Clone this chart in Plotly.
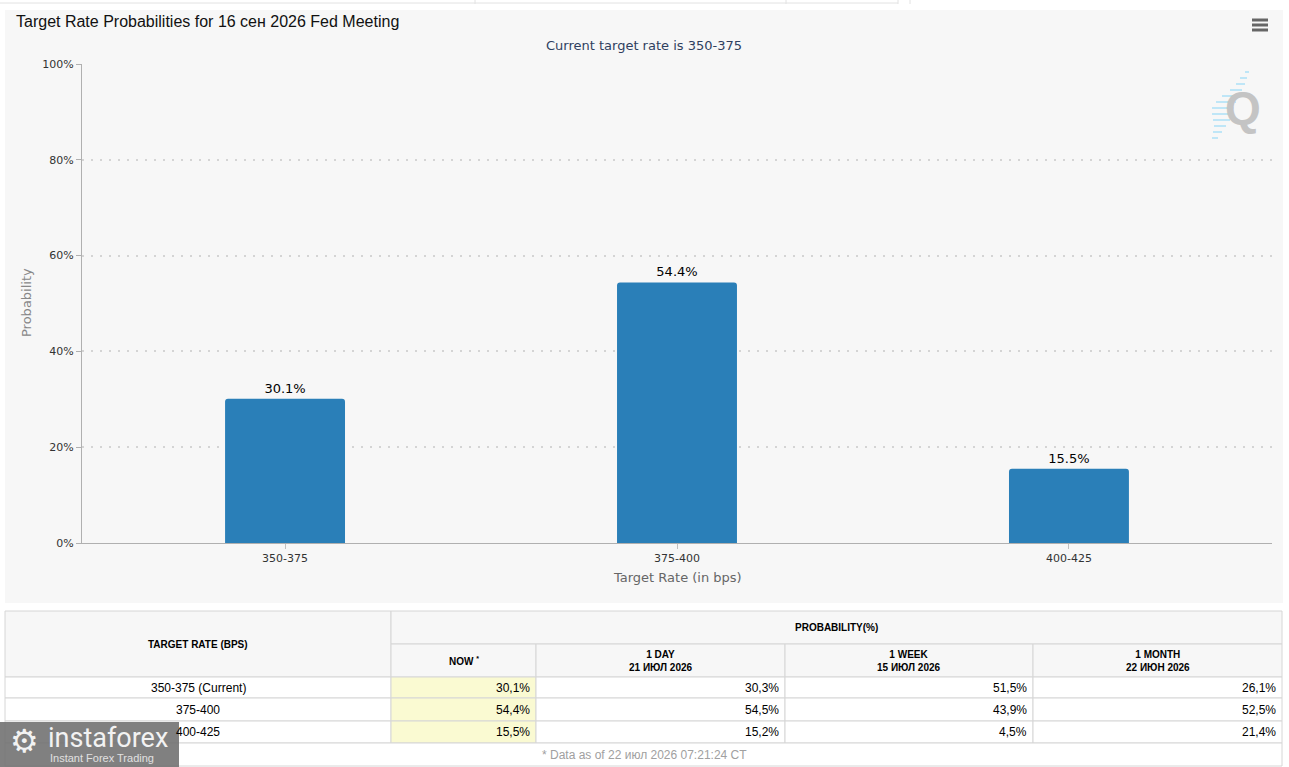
import plotly.graph_objects as go

# ----- data
rates = ["350-375", "375-400", "400-425"]
probs_now = [30.1, 54.4, 15.5]
probs_1day = [30.3, 54.5, 15.2]
probs_1week = [51.5, 43.9, 4.5]
probs_1month = [26.1, 52.5, 21.4]
row_labels = ["350-375 (Current)", "375-400", "400-425"]
col_headers = ["NOW <sup>*</sup>", "1 DAY<br>21 ИЮЛ 2026", "1 WEEK<br>15 ИЮЛ 2026", "1 MONTH<br>22 ИЮН 2026"]
y_ticks = [0, 20, 40, 60, 80, 100]
y_ticktext = [f"{v}%" for v in y_ticks]

TITLE = "Target Rate Probabilities for 16 сен 2026 Fed Meeting"
SUBTITLE = "Current target rate is 350-375"
FOOTNOTE = "* Data as of 22 июл 2026 07:21:24 CT"

# ----- page geometry (pixels)
W, H = 1289, 767
PL, PR, PT, PB = 82, 1272, 64, 543


def px(x):
    return (x - PL) / (PR - PL)


def py(y):
    return (PB - y) / (PB - PT)


CHART_FONT = "DejaVu Sans, Verdana, sans-serif"
TABLE_FONT = "Liberation Sans, Arial, sans-serif"

fig = go.Figure()
fig.add_trace(go.Bar(
    x=rates, y=probs_now,
    marker=dict(color="#2a7fb8", line=dict(width=0), cornerradius=3),
    width=0.306,
    texttemplate="%{y:.1f}%", textposition="outside",
    textfont=dict(family=CHART_FONT, size=13, color="#000"),
    cliponaxis=False, hoverinfo="x+y",
))

shapes = []
annotations = []

# chart panel background
shapes.append(dict(type="rect", xref="paper", yref="paper", layer="below",
                   x0=px(5), x1=px(1283), y0=py(603), y1=py(10),
                   fillcolor="#f7f7f7", line=dict(width=0)))
# faint line at very top of page
shapes.append(dict(type="line", xref="paper", yref="paper", layer="below",
                   x0=px(0), x1=px(898), y0=py(3), y1=py(3),
                   line=dict(color="#e2e2e2", width=1)))
for xx in (475, 786, 898, 910):
    shapes.append(dict(type="line", xref="paper", yref="paper", layer="below",
                       x0=px(xx), x1=px(xx), y0=py(0), y1=py(4),
                       line=dict(color="#e2e2e2", width=1)))

# hamburger menu icon
for yy in (20, 25, 30):
    shapes.append(dict(type="line", xref="paper", yref="paper",
                       x0=px(1252), x1=px(1268), y0=py(yy), y1=py(yy),
                       line=dict(color="#666", width=3)))

annotations.append(dict(text=TITLE, x=px(14), y=py(21), xref="paper", yref="paper",
                        xanchor="left", yanchor="middle", showarrow=False,
                        font=dict(family=TABLE_FONT, size=16, color="#111")))
annotations.append(dict(text=SUBTITLE, x=px(644), y=py(45), xref="paper", yref="paper",
                        xanchor="center", yanchor="middle", showarrow=False,
                        font=dict(family=CHART_FONT, size=13, color="#2f3f5f")))
annotations.append(dict(text="Probability", x=px(26), y=py(303), xref="paper", yref="paper",
                        textangle=-90, xanchor="center", yanchor="middle", showarrow=False,
                        font=dict(family=CHART_FONT, size=13, color="#888")))
annotations.append(dict(text="Target Rate (in bps)", x=px(677), y=py(577), xref="paper", yref="paper",
                        xanchor="center", yanchor="middle", showarrow=False,
                        font=dict(family=CHART_FONT, size=13, color="#666")))
# Q logo with light blue diagonal streaks
streaks = [(72, 1245, 1249), (78, 1240, 1247), (84, 1236, 1245), (90, 1230, 1242),
           (96, 1222, 1240), (102, 1216, 1236), (108, 1212, 1234), (114, 1212, 1232),
           (120, 1213, 1230), (126, 1214, 1226), (132, 1213, 1222), (138, 1212, 1218)]
for y_s, x_a, x_b in streaks:
    shapes.append(dict(type="line", xref="paper", yref="paper",
                       x0=px(x_a), x1=px(x_b), y0=py(y_s), y1=py(y_s),
                       line=dict(color="#bfe6f7", width=2)))
annotations.append(dict(text="<b>Q</b>", x=px(1243), y=py(108), xref="paper", yref="paper",
                        xanchor="center", yanchor="middle", showarrow=False,
                        font=dict(family="Liberation Sans, Arial", size=46, color="#c4c4c4")))

# ----- table
col_edges = [5, 391, 536, 785, 1033, 1282]
row_edges = [611, 644, 677, 698, 721, 743, 766]
border = dict(color="#d6d6d6", width=1)


def cell(x0, x1, y0, y1, fill):
    shapes.append(dict(type="rect", xref="paper", yref="paper",
                       x0=px(x0), x1=px(x1), y0=py(y1), y1=py(y0),
                       fillcolor=fill, line=border))


def label(text, x, y, anchor="center", size=12, color="#000", bold=False):
    annotations.append(dict(text=f"<b>{text}</b>" if bold else text,
                            x=px(x), y=py(y), xref="paper", yref="paper",
                            xanchor=anchor, yanchor="middle", showarrow=False,
                            align="center",
                            font=dict(family=TABLE_FONT, size=size, color=color)))


header_fill = "#f7f7f7"
cell(col_edges[0], col_edges[1], row_edges[0], row_edges[2], header_fill)
label("TARGET RATE (BPS)", (col_edges[0] + col_edges[1]) / 2, (row_edges[0] + row_edges[2]) / 2, size=10, bold=True)
cell(col_edges[1], col_edges[5], row_edges[0], row_edges[1], header_fill)
label("PROBABILITY(%)", (col_edges[1] + col_edges[5]) / 2, (row_edges[0] + row_edges[1]) / 2, size=10, bold=True)
for j, head in enumerate(col_headers):
    cell(col_edges[j + 1], col_edges[j + 2], row_edges[1], row_edges[2], header_fill)
    label(head, (col_edges[j + 1] + col_edges[j + 2]) / 2, (row_edges[1] + row_edges[2]) / 2, size=10, bold=True)

columns = [probs_now, probs_1day, probs_1week, probs_1month]
for i, name in enumerate(row_labels):
    y0, y1 = row_edges[i + 2], row_edges[i + 3]
    cell(col_edges[0], col_edges[1], y0, y1, "#ffffff")
    label(name, (col_edges[0] + col_edges[1]) / 2, (y0 + y1) / 2)
    for j, col in enumerate(columns):
        cell(col_edges[j + 1], col_edges[j + 2], y0, y1, "#fafad2" if j == 0 else "#ffffff")
        label(f"{col[i]:.1f}".replace(".", ",") + "%", col_edges[j + 2] - 4, (y0 + y1) / 2, anchor="right")

cell(col_edges[0], col_edges[5], row_edges[5], row_edges[6], "#ffffff")
label(FOOTNOTE, 644, (row_edges[5] + row_edges[6]) / 2, color="#a0a0a0")

# instaforex watermark
shapes.append(dict(type="rect", xref="paper", yref="paper",
                   x0=px(0), x1=px(179), y0=py(767), y1=py(722),
                   fillcolor="rgba(110,110,110,0.88)", line=dict(width=0)))
annotations.append(dict(text="⚙", x=px(25), y=py(741), xref="paper", yref="paper",
                        xanchor="center", yanchor="middle", showarrow=False,
                        font=dict(family="DejaVu Sans", size=32, color="#f2f2f2")))
annotations.append(dict(text="instaforex", x=px(46), y=py(738), xref="paper", yref="paper",
                        xanchor="left", yanchor="middle", showarrow=False,
                        font=dict(family="Roboto, Liberation Sans", size=27, color="#f2f2f2")))
annotations.append(dict(text="Instant Forex Trading", x=px(48), y=py(758), xref="paper", yref="paper",
                        xanchor="left", yanchor="middle", showarrow=False,
                        font=dict(family="Liberation Sans, Arial", size=11, color="#e0e0e0")))

fig.update_layout(
    width=W, height=H,
    margin=dict(l=PL, r=W - PR, t=PT, b=H - PB),
    paper_bgcolor="#ffffff", plot_bgcolor="rgba(0,0,0,0)",
    showlegend=False,
    shapes=shapes, annotations=annotations,
    xaxis=dict(
        type="category", range=[-0.518, 2.518], showgrid=False,
        showline=True, linecolor="#b0b0b0", linewidth=1,
        ticks="outside", ticklen=5, tickcolor="#c0c0c0",
        tickfont=dict(family=CHART_FONT, size=11, color="#333"),
        fixedrange=True,
    ),
    yaxis=dict(
        range=[0, 100], tickmode="array", tickvals=y_ticks, ticktext=y_ticktext,
        showgrid=True, gridcolor="#d4d4d4", gridwidth=1.5, griddash="2px,7px",
        zeroline=False,
        showline=True, linecolor="#b0b0b0", linewidth=1,
        ticks="outside", ticklen=5, tickcolor="#b0b0b0",
        tickfont=dict(family=CHART_FONT, size=11, color="#333"),
        fixedrange=True,
    ),
)

fig.write_html("out.html", config={"displayModeBar": False},
               post_script="document.body.style.margin='0';")
